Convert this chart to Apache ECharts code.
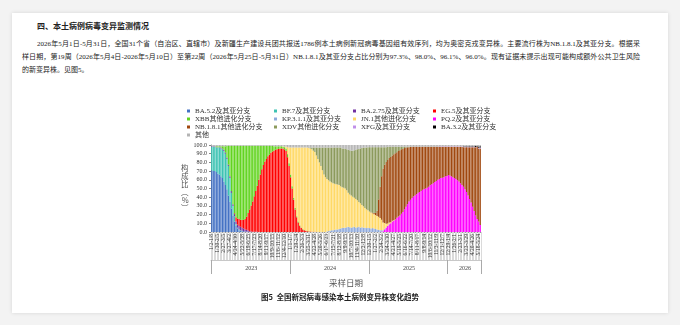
<!DOCTYPE html>
<html><head><meta charset="utf-8">
<script src="https://cdn.jsdelivr.net/npm/echarts@6/dist/echarts.min.js"></script>
<style>
html,body{margin:0;padding:0;width:680px;height:325px;overflow:hidden;background:#f3f3f3;}
.card{position:absolute;left:12px;top:13px;width:656px;height:300px;background:#fff;box-shadow:0 0 4px rgba(0,0,0,0.12);}
.t{position:absolute;font-family:"Liberation Serif","Noto Sans CJK SC",serif;color:#222;white-space:nowrap;}
#h{left:37px;top:20px;font-size:8px;font-weight:bold;font-family:"Noto Sans CJK SC",sans-serif;}
.p{font-size:7px;line-height:9px;}
.j{text-align:justify;text-align-last:justify;}
#chart{position:absolute;left:0;top:0;width:680px;height:325px;}
</style></head>
<body>
<div class="card"></div>
<div class="t" id="h">四、本土病例病毒变异监测情况</div>
<div class="t p j" style="left:37px;top:40px;width:603px;">2026年5月1日-5月31日，全国31个省（自治区、直辖市）及新疆生产建设兵团共报送1786例本土病例新冠病毒基因组有效序列，均为奥密克戎变异株。主要流行株为NB.1.8.1及其亚分支。根据采</div>
<div class="t p j" style="left:22px;top:53px;width:618px;">样日期，第19周（2026年5月4日-2026年5月10日）至第22周（2026年5月25日-5月31日）NB.1.8.1及其亚分支占比分别为97.3%、98.0%、96.1%、96.0%。现有证据未提示出现可能构成额外公共卫生风险</div>
<div class="t p" style="left:22px;top:66px;">的新变异株。见图5。</div>
<div id="chart"></div>
<script>
// ---- categories / tick labels ----
const firstWeekStart = [2023, 1, 2];   // Monday of week 1, 2023
const weekCount = 178;
const yearLabels = ['2023', '2024', '2025', '2026'];
const yearStartIdx = [0, 52, 104, 156];
const yearLabelIdx = [26, 78, 130, 167];
const yTicks = [0, 100, 10];

// ---- series values (% of sequences per week) ----
const ba52 = [71,70,70,69,67,66,64,62,58,54, 49,42,35,27,19,12,7,4,2,1.5, 1,1,0.5,0.5,0.3,0,0,0,0,0, 0,0,0,0,0,0,0,0,0,0, 0,0,0,0,0,0,0,0,0,0, 0,0,
 0,0,0,0,0,0,0,0,0,0, 0,0,0,0,0,0,0,0,0,0, 0,0,0,0,0,0,0,0,0,0, 0,0,0,0,0,0,0,0,0,0, 0,0,0,0,0,0,0,0,0,0, 0,0,
 0,0,0,0,0,0,0,0,0,0, 0,0,0,0,0,0,0,0,0,0, 0,0,0,0,0,0,0,0,0,0, 0,0,0,0,0,0,0,0,0,0, 0,0,0,0,0,0,0,0,0,0, 0,0,
 0,0,0,0,0,0,0,0,0,0, 0,0,0,0,0,0,0,0,0,0, 0,0];
const bf7 = [27,28,28,28,30,31,32,33,35,36, 35,34,27,18,11,6,2,1,1,0.5, 0.3,0,0,0,0,0,0,0,0,0, 0,0,0,0,0,0,0,0,0,0, 0,0,0,0,0,0,0,0,0,0, 0,0,
 0,0,0,0,0,0,0,0,0,0, 0,0,0,0,0,0,0,0,0,0, 0,0,0,0,0,0,0,0,0,0, 0,0,0,0,0,0,0,0,0,0, 0,0,0,0,0,0,0,0,0,0, 0,0,
 0,0,0,0,0,0,0,0,0,0, 0,0,0,0,0,0,0,0,0,0, 0,0,0,0,0,0,0,0,0,0, 0,0,0,0,0,0,0,0,0,0, 0,0,0,0,0,0,0,0,0,0, 0,0,
 0,0,0,0,0,0,0,0,0,0, 0,0,0,0,0,0,0,0,0,0, 0,0];
const ba275 = [0.5,0.5,0.5,0.5,0.5,0.5,1,1,1.5,1.5, 1.5,1.5,2,2,2,2.5,3,3.5,4,4, 3.5,3,2.5,2,1.5,1,0.5,0.2,0.2,0.2, 0.2,0,0,0,0,0,0,0,0,0, 0,0,0,0,0,0,0,0,0,0, 0,0,
 0,0,0,0,0,0,0,0,0,0, 0,0,0,0,0,0,0,0,0,0, 0,0,0,0,0,0,0,0,0,0, 0,0,0,0,0,0,0,0,0,0, 0,0,0,0,0,0,0,0,0,0, 0,0,
 0,0,0,0,0,0,0,0,0,0, 0,0,0,0,0,0,0,0,0,0, 0,0,0,0,0,0,0,0,0,0, 0,0,0,0,0,0,0,0,0,0, 0,0,0,0,0,0,0,0,0,0, 0,0,
 0,0,0,0,0,0,0,0,0,0, 0,0,0,0,0,0,0,0,0,0, 0,0];
const eg5 = [0,0,0,0,0,0,0,0,0,0, 0,0,0,0,0,1,5,7,8,8, 9,10,12,15,20,25,30,35,41,47, 53,60,66,72,77,81,84,87,89,91, 92.5,93.5,94.5,95,95.5,96,96,96,95,93, 86,76,
 63,50,37,26,17,11,7,4.5,3,2, 1.5,1,0.7,0.5,0.4,0.3,0.2,0.2,0,0, 0,0,0,0,0,0,0,0,0,0, 0,0,0,0,0,0,0,0,0,0, 0,0,0,0,0,0,0,0,0,0, 0,0,
 0,0,0,0,0,0,0,0,0,0, 0,0,0,0,0,0,0,0,0,0, 0,0,0,0,0,0,0,0,0,0, 0,0,0,0,0,0,0,0,0,0, 0,0,0,0,0,0,0,0,0,0, 0,0,
 0,0,0,0,0,0,0,0,0,0, 0,0,0,0,0,0,0,0,0,0, 0,0];
const xbb = [0,0,0,1,1,1,1.5,2.5,4,7, 13.5,21.5,35,52,67,77.5,82,83.5,84,85, 85.2,85,84,81.5,77.2,73,68.5,63.8,57.8,51.8, 45.8,39,33,27,22,18,15,12,10,8, 6.5,5,4,3.5,3,2.5,2.5,2,2.5,3, 3.5,3,
 3,2.5,2,1.5,1.2,1,0.8,0.6,0.5,0.4, 0.3,0.2,0.2,0.1,0,0,0,0,0,0, 0,0,0,0,0,0,0,0,0,0, 0,0,0,0,0,0,0,0,0,0, 0,0,0,0,0,0,0,0,0,0, 0,0,
 0,0,0,0,0,0,0,0,0,0, 0,0,0,0,0,0,0,0,0,0, 0,0,0,0,0,0,0,0,0,0, 0,0,0,0,0,0,0,0,0,0, 0,0,0,0,0,0,0,0,0,0, 0,0,
 0,0,0,0,0,0,0,0,0,0, 0,0,0,0,0,0,0,0,0,0, 0,0];
const kp311 = [0,0,0,0,0,0,0,0,0,0, 0,0,0,0,0,0,0,0,0,0, 0,0,0,0,0,0,0,0,0,0, 0,0,0,0,0,0,0,0,0,0, 0,0,0,0,0,0,0,0,0,0, 0,0,
 0,0,0,0,0,0,0,0,0,0, 0,0,0,0,0,0,0,0,0,0, 0,0,0,0, 0.5,1,1.5,2,2,2.5,3,3,3.5,4, 4.5,5,5,5.5,6,5.5,5,5.5,6,5, 5.5,6,5,5.5,5,5,4.5,5,
 4.5,4,4.5,4,3.5,3,2.5,2,1.5,1, 0.8,0.5,0.3,0.2,0,0,0,0,0,0, 0,0,0,0,0,0,0,0,0,0, 0,0,0,0,0,0,0,0,0,0, 0,0,0,0,0,0,0,0,0,0, 0,0,
 0,0,0,0,0,0,0,0,0,0, 0,0,0,0,0,0,0,0,0,0, 0,0];
const jn1 = [0,0,0,0,0,0,0,0,0,0, 0,0,0,0,0,0,0,0,0,0, 0,0,0,0,0,0,0,0,0,0, 0,0,0,0,0,0,0,0,0,0, 0,0,0,0,0,0,0,0.5,0.5,2, 8,18,
 31,44.5,58,69.5,78.8,85,89.2,91.9,93.5,94.6, 95.2,95.8,95.6,95.4,94.6,93.2,91.8,87.8,84,80, 76,71,66,63,60.5,58.5,56.5,55,54,53, 52,51.5,50.5,48.5,47,46,45,42.5,39,37.5, 37,35,33.5,33,31,28.5,28,25.5,24.5,22.5, 21.5,20,
 19,18.5,17,16.5,16,15.5,15,14,12,9, 6.5,4,2.5,1.8,1.2,0.8,0.5,0.4,0.3,0.2, 0.1,0.1,0,0,0,0,0,0,0,0, 0,0,0,0,0,0,0,0,0,0, 0,0,0,0,0,0,0,0,0,0, 0,0,
 0,0,0,0,0,0,0,0,0,0, 0,0,0,0,0,0,0,0,0,0, 0,0];
const pq2 = [0,0,0,0,0,0,0,0,0,0, 0,0,0,0,0,0,0,0,0,0, 0,0,0,0,0,0,0,0,0,0, 0,0,0,0,0,0,0,0,0,0, 0,0,0,0,0,0,0,0,0,0, 0,0,
 0,0,0,0,0,0,0,0,0,0, 0,0,0,0,0,0,0,0,0,0, 0,0,0,0,0,0,0,0,0,0, 0,0,0,0,0,0,0,0,0,0, 0,0,0,0,0,0,0,0,0,0, 0,0,
 0,0,0,0,0,0,0,0, 0.5,1,3,5,7,9,10,12,13,14, 16,17.5,19,21,23,26,29,32,35,37, 39,41,42,43.5,45,46,47,48.5,49.5,50, 51,52,54,55,56,57.5,58.5,60,61,62, 62.5,63,64,64.5,
 65.5,65,64,63,62,61,59.5,58,56,54, 52,49,46,42,38,34,29,24,19,15, 12,8];
const nb181 = [0,0,0,0,0,0,0,0,0,0, 0,0,0,0,0,0,0,0,0,0, 0,0,0,0,0,0,0,0,0,0, 0,0,0,0,0,0,0,0,0,0, 0,0,0,0,0,0,0,0,0,0, 0,0,
 0,0,0,0,0,0,0,0,0,0, 0,0,0,0,0,0,0,0,0,0, 0,0,0,0,0,0,0,0,0,0, 0,0,0,0,0,0,0,0,0,0, 0,0,0,0,0,0,0,0,0,0, 0,0,
 0,0.3,0.6,1.2,2.5,6,20,36,50,62, 67,71,73,74,75,75,76,76,75.5,75.5, 75,74,72.5,70.5,68,65.3,62.5,60.7,59,57, 56,54.5,53,52,51,49.5,48.5,48,47,46, 44,43,42,40.5,39.5,38,37,36,35.5,35, 34,33.5,
 32.5,33,34,35,36,37,38.5,40,42,44, 45.5,48.5,51.5,55.5,59.5,63.5,68.5,73.5,78.3,83, 84.1,88];
const xdv = [0,0,0,0,0,0,0,0,0,0, 0,0,0,0,0,0,0,0,0,0, 0,0,0,0,0,0,0,0,0,0, 0,0,0,0,0,0,0,0,0,0, 0,0,0,0,0,0,0,0,0,0, 0,0,
 0,0,0,0,0,0,0,0,0,0, 0,0,0, 1,2,3.5,5,9,13,17,21,26,31, 34,36,37.5,39,40,41,41.5,42,42.5,43, 44.5,44.5,45,45.5,47,49.5,51,51.5,53,54.5, 56.5,58.5,61,63,65.5,67.5,69.5,71,72.5,
 74,74.7,75.4,75.8,75.5,73,60,45.5,33.5,24.5, 20.2,17,15.2,13,11.8,10.2,8.5,7.6,6.2,4.8, 3.9,2.9,2.5,1.5,1,0.7,0.5,0.3,0,0, 0,0,0,0,0,0,0,0,0,0, 0,0,0,0,0,0,0,0,0,0, 0,0,
 0,0,0,0,0,0,0,0,0,0, 0,0,0,0,0,0,0,0,0,0, 0,0];
const xfg = [0,0,0,0,0,0,0,0,0,0, 0,0,0,0,0,0,0,0,0,0, 0,0,0,0,0,0,0,0,0,0, 0,0,0,0,0,0,0,0,0,0, 0,0,0,0,0,0,0,0,0,0, 0,0,
 0,0,0,0,0,0,0,0,0,0, 0,0,0,0,0,0,0,0,0,0, 0,0,0,0,0,0,0,0,0,0, 0,0,0,0,0,0,0,0,0,0, 0,0,0,0,0,0,0,0,0,0, 0,0,
 0,0,0,0,0,0,0,0,0,0, 0,0,0,0,0,0,0,0,0,0, 0,0,0,0,0,0,0,0,0,0, 0,0,0,0,0,0,0,0,0,0, 0,0,0,0,0,0,0.5,0.5,0.5,0.5, 0.5,0.5,
 0.5,0.5,0.5,0.5,0.5,0.5,0.5,0.5,0.5,0.5, 0.5,0.5,0.5,0.5,0.5,0.5,0.5,0.5,0.5,0.4, 0.8,1];
const ba32 = [0,0,0,0,0,0,0,0,0,0, 0,0,0,0,0,0,0,0,0,0, 0,0,0,0,0,0,0,0,0,0, 0,0,0,0,0,0,0,0,0,0, 0,0,0,0,0,0,0,0,0,0, 0,0,
 0,0,0,0,0,0,0,0,0,0, 0,0,0,0,0,0,0,0,0,0, 0,0,0,0,0,0,0,0,0,0, 0,0,0,0,0,0,0,0,0,0, 0,0,0,0,0,0,0,0,0,0, 0,0,
 0,0,0,0,0,0,0,0,0,0, 0,0,0,0,0,0,0,0,0,0, 0,0,0,0,0,0,0,0,0,0, 0,0,0,0,0,0,0,0,0,0, 0,0,0,0,0,0,0,0,0,0, 0,0,
 0,0,0,0,0,0,0,0,0,0, 0.5,0.5,0.5,0.5,0.5,0.5,0.5,0.5,1,0.8, 1.5,1.5];
const other = [1.5,1.5,1.5,1.5,1.5,1.5,1.5,1.5,1.5,1.5, 1,1,1,1,1,1,1,1,1,1, 1,1,1,1,1,1,1,1,1,1, 1,1,1,1,1,1,1,1,1,1, 1,1.5,1.5,1.5,1.5,1.5,1.5,1.5,2,2, 2.5,3,
 3,3,3,3,3,3,3,3,3,3, 3,3,3.5,3,3,3,3,3,3,3, 3,3,3,3,3,3,3,3,3,3, 3,3,3,3,4,4,4.5,5,5.5,6, 6.5,6.5,6,5.5,5,4.5,4,3.5,3,3, 3,2.5,
 2.5,2.5,2.5,2.5,2.5,2.5,2.5,2.5,2.5,2.5, 2.5,2.5,2,2,2,2,2,2,2,2, 2,2,2,2,2,2,2,2,2,2, 2,2,2,2,2,2,2,2,2,2, 2,2,2,2,2,2,1.5,1.5,1.5,1.5, 1.5,1.5,
 1.5,1.5,1.5,1.5,1.5,1.5,1.5,1.5,1.5,1.5, 1.5,1.5,1.5,1.5,1.5,1.5,1.5,1.5,1.2,0.8, 1.6,1.5];

const seriesNames = ['BA.5.2及其亚分支','BF.7及其亚分支','BA.2.75及其亚分支','EG.5及其亚分支','XBB其他进化分支','KP.3.1.1及其亚分支','JN.1其他进化分支','PQ.2及其亚分支','NB.1.8.1其他进化分支','XDV其他进化分支','XFG及其亚分支','BA.3.2及其亚分支','其他'];
const seriesData = [ba52, bf7, ba275, eg5, xbb, kp311, jn1, pq2, nb181, xdv, xfg, ba32, other];
const seriesColors = ['#4472C4','#3DC3B3','#7030A0','#FF0000','#62D420','#8FAADC','#FFD966','#FF00FF','#A0480F','#8C9A5C','#C090E8','#000000','#B4B4B4'];
// stacking order (bottom -> top), indices into the lists above
const stackOrder = [0,1,2,3,4,7,5,6,8,9,10,11,12];
const legendColumns = [[0,4,8,12],[1,5,9],[2,6,10],[3,7,11]];

const bad = seriesData.map((d,i)=>d.length!==weekCount ? seriesNames[i]+':'+d.length : null).filter(Boolean);
if (bad.length) throw new Error('bad lengths ' + bad.join(', '));

const categories = [];
for (let i = 0; i < weekCount; i++) {
  const s = new Date(Date.UTC(firstWeekStart[0], firstWeekStart[1]-1, firstWeekStart[2] + 7*i));
  const e = new Date(Date.UTC(firstWeekStart[0], firstWeekStart[1]-1, firstWeekStart[2] + 7*i + 6));
  categories.push((s.getUTCMonth()+1) + '/' + s.getUTCDate() + '-' + (e.getUTCMonth()+1) + '/' + e.getUTCDate());
}

const FONT = "'Liberation Serif','Noto Sans CJK SC',serif";
const chart = echarts.init(document.getElementById('chart'), null, {renderer:'canvas'});
const legendLeft = [182, 269, 348, 428];
const option = {
  animation: false,
  backgroundColor: 'transparent',
  title: {text: '图5  全国新冠病毒感染本土病例变异株变化趋势', left: 'center', top: 288,
          textStyle: {fontSize: 7.5, fontWeight: 'bold', color: '#222', fontFamily: "'Noto Sans CJK SC',sans-serif"}},
  legend: legendColumns.map((col, k) => ({
    orient: 'vertical', left: legendLeft[k], top: 102.5, itemWidth: 3, itemHeight: 3, itemGap: 1,
    icon: 'rect', selectedMode: false,
    data: col.map(i => seriesNames[i]),
    textStyle: {fontSize: 7, lineHeight: 6.3, color: '#333', fontFamily: FONT}
  })),
  grid: {left: 211, top: 145, width: 270, height: 87},
  xAxis: [{
    type: 'category', data: categories, boundaryGap: true,
    axisLine: {show: true, lineStyle: {color: '#999', width: 1}},
    axisTick: {show: true, interval: 0, length: 28, lineStyle: {color: '#dadada', width: 1}},
    axisLabel: {interval: 3, rotate: 90, fontSize: 5.5, color: '#333', margin: 2, fontFamily: FONT},
    splitLine: {show: false}
  }, {
    type: 'category', data: categories, boundaryGap: true, position: 'bottom', offset: 28,
    axisLine: {show: true, lineStyle: {color: '#c8c8c8', width: 1}},
    axisTick: {show: true, length: 14, interval: (i) => yearStartIdx.indexOf(i) >= 0, lineStyle: {color: '#aaa'}},
    axisLabel: {interval: (i) => yearLabelIdx.indexOf(i) >= 0, margin: 5, fontSize: 6, color: '#444', fontFamily: FONT,
                formatter: (v, i) => { const k = yearLabelIdx.indexOf(i); return k >= 0 ? yearLabels[k] : ''; }},
    name: '采样日期', nameLocation: 'middle', nameGap: 19,
    nameTextStyle: {fontSize: 8.5, color: '#555', fontFamily: "'Noto Sans CJK SC',sans-serif"}
  }],
  yAxis: {
    type: 'value', min: yTicks[0], max: yTicks[1], interval: yTicks[2],
    axisLine: {show: true, lineStyle: {color: '#888'}},
    axisTick: {show: true, length: 2, lineStyle: {color: '#888'}},
    axisLabel: {fontSize: 6, color: '#333', margin: 4, fontFamily: FONT, formatter: v => v.toFixed(1)},
    splitLine: {show: false},
    name: '构\n成\n比\n︵\n%\n︶', nameLocation: 'middle', nameRotate: 0, nameGap: 21,
    nameTextStyle: {fontSize: 7.5, lineHeight: 8, color: '#555', fontFamily: "'Noto Sans CJK SC',sans-serif"}
  },
  series: stackOrder.map(i => ({
    name: seriesNames[i], type: 'bar', stack: 'total', data: seriesData[i],
    barCategoryGap: '18%', itemStyle: {color: seriesColors[i]}, emphasis: {disabled: true}
  }))
};
chart.setOption(option);
</script>
</body></html>
